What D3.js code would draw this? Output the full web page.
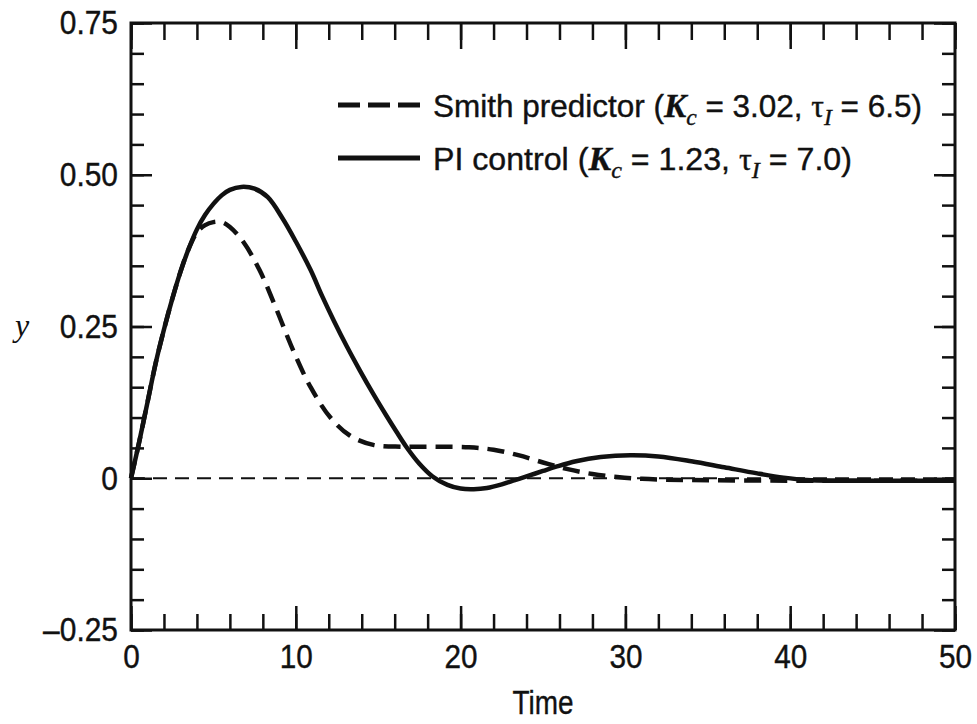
<!DOCTYPE html>
<html>
<head>
<meta charset="utf-8">
<script src="https://cdn.jsdelivr.net/npm/d3@7"></script>
<style>
  html, body { margin: 0; padding: 0; background: #fff; }
  svg { display: block; }
</style>
</head>
<body>
<div id="chart"></div>
<script>
// 数据：近似值
const timePI = [0, 0.5, 1.0, 1.5, 2.0, 2.5, 3.0, 3.5, 4.0, 4.5, 5.0, 5.5, 6.0, 6.7, 7.5, 8.3, 9.2, 10.0, 10.9, 11.6, 12.3, 13.1, 13.9, 14.7, 15.5, 16.1, 16.7, 17.5, 18.3, 19.2, 20.0, 20.8, 21.6, 22.5, 23.3, 24.0, 25.0, 25.8, 27.0, 28.5, 30.3, 32.0, 34.0, 36.0, 38.0, 39.6, 41.0, 43.0, 46.0, 50.0];
const valuesPI = [0, 0.06, 0.125, 0.19, 0.245, 0.295, 0.34, 0.378, 0.41, 0.434, 0.452, 0.466, 0.475, 0.480, 0.477, 0.463, 0.428, 0.390, 0.343, 0.300, 0.260, 0.217, 0.177, 0.139, 0.103, 0.077, 0.052, 0.024, 0.003, -0.011, -0.017, -0.018, -0.016, -0.010, -0.003, 0.003, 0.012, 0.019, 0.028, 0.035, 0.038, 0.036, 0.028, 0.018, 0.008, 0.001, -0.003, -0.004, -0.004, -0.004];

const timeSmith = [0, 0.5, 1.0, 1.5, 2.0, 2.5, 3.0, 3.5, 4.0, 4.5, 5.0, 5.5, 6.0, 6.8, 7.8, 8.8, 9.85, 10.9, 12.1, 13.3, 14.7, 16.5, 18.5, 20.5, 22.0, 23.5, 25.0, 26.5, 28.0, 29.5, 31.0, 34.0, 40.0, 45.0, 50.0];
const valuesSmith = [0, 0.06, 0.125, 0.19, 0.245, 0.295, 0.34, 0.378, 0.405, 0.417, 0.422, 0.422, 0.414, 0.390, 0.343, 0.280, 0.210, 0.150, 0.100, 0.070, 0.055, 0.052, 0.052, 0.051, 0.047, 0.038, 0.026, 0.015, 0.007, 0.002, -0.001, -0.003, -0.004, -0.004, -0.004];

const xMajorTicks = [0, 10, 20, 30, 40, 50];
const yMajorTicks = [-0.25, 0, 0.25, 0.5, 0.75];
const yTickLabels = ['\u20130.25', '0', '0.25', '0.50', '0.75'];

const W = 977, H = 724;
const plot = { left: 131, right: 955, top: 23, bottom: 630 };
const ink = '#111';

const svg = d3.select('#chart').append('svg')
  .attr('width', W).attr('height', H)
  .style('font-family', '"Liberation Sans", Arial, sans-serif');

const x = d3.scaleLinear().domain([0, 50]).range([plot.left, plot.right]);
const y = d3.scaleLinear().domain([-0.25, 0.75]).range([plot.bottom, plot.top]);

// 压缩字体宽度（原图字体较窄）
function squeeze(sel, k) {
  sel.each(function () {
    const w = this.getComputedTextLength();
    d3.select(this).attr('textLength', w * k).attr('lengthAdjust', 'spacingAndGlyphs');
  });
}

// 坐标轴：刻度朝内
function styleAxis(g) {
  g.select('.domain').remove();
  g.selectAll('.tick line').attr('stroke', ink).attr('stroke-width', 2.5);
}

const xMinor = d3.range(0, 51, 2);
const yMinor = d3.range(-0.25, 0.7501, 0.05).map(v => +v.toFixed(2));

svg.append('g').attr('transform', `translate(0,${plot.bottom})`)
  .call(d3.axisBottom(x).tickValues(xMinor).tickSizeInner(-16).tickSizeOuter(0).tickFormat(''))
  .call(styleAxis);
const xAxisG = svg.append('g').attr('transform', `translate(0,${plot.bottom})`)
  .call(d3.axisBottom(x).tickValues(xMajorTicks).tickSizeInner(-24).tickSizeOuter(0).tickPadding(15).tickFormat(d3.format('d')))
  .call(styleAxis);
svg.append('g').attr('transform', `translate(0,${plot.top})`)
  .call(d3.axisTop(x).tickValues(xMinor).tickSizeInner(-17).tickSizeOuter(0).tickFormat(''))
  .call(styleAxis);
svg.append('g').attr('transform', `translate(0,${plot.top})`)
  .call(d3.axisTop(x).tickValues(xMajorTicks).tickSizeInner(-26).tickSizeOuter(0).tickFormat(''))
  .call(styleAxis);

svg.append('g').attr('transform', `translate(${plot.left},0)`)
  .call(d3.axisLeft(y).tickValues(yMinor).tickSizeInner(-13).tickSizeOuter(0).tickFormat(''))
  .call(styleAxis);
const yAxisG = svg.append('g').attr('transform', `translate(${plot.left},0)`)
  .call(d3.axisLeft(y).tickValues(yMajorTicks).tickSizeInner(-21).tickSizeOuter(0).tickPadding(13)
    .tickFormat((d, i) => yTickLabels[i]))
  .call(styleAxis);
svg.append('g').attr('transform', `translate(${plot.right},0)`)
  .call(d3.axisRight(y).tickValues(yMinor).tickSizeInner(-13).tickSizeOuter(0).tickFormat(''))
  .call(styleAxis);
svg.append('g').attr('transform', `translate(${plot.right},0)`)
  .call(d3.axisRight(y).tickValues(yMajorTicks).tickSizeInner(-21).tickSizeOuter(0).tickFormat(''))
  .call(styleAxis);

xAxisG.selectAll('.tick text').attr('fill', ink).attr('stroke', ink).attr('stroke-width', 0.4)
  .style('font-size', '33px').style('font-family', '"Liberation Sans", Arial, sans-serif');
yAxisG.selectAll('.tick text').attr('fill', ink).attr('stroke', ink).attr('stroke-width', 0.4)
  .style('font-size', '34px').style('font-family', '"Liberation Sans", Arial, sans-serif');
squeeze(xAxisG.selectAll('.tick text'), 0.9);
squeeze(yAxisG.selectAll('.tick text'), 0.88);

// 外框
svg.append('rect')
  .attr('x', plot.left).attr('y', plot.top)
  .attr('width', plot.right - plot.left).attr('height', plot.bottom - plot.top)
  .attr('fill', 'none').attr('stroke', ink).attr('stroke-width', 3);

// 零线（细虚线）
svg.append('line')
  .attr('x1', x(0)).attr('x2', x(50))
  .attr('y1', y(0)).attr('y2', y(0))
  .attr('stroke', ink).attr('stroke-width', 2)
  .attr('stroke-dasharray', '14,8');

const line = d3.line()
  .x(d => x(d[0]))
  .y(d => y(d[1]))
  .curve(d3.curveCatmullRom.alpha(0.5));

const smithData = timeSmith.map((t, i) => [t, valuesSmith[i]]);
const piData = timePI.map((t, i) => [t, valuesPI[i]]);

svg.append('path')
  .datum(smithData)
  .attr('d', line)
  .attr('fill', 'none').attr('stroke', ink)
  .attr('stroke-width', 4.5)
  .attr('stroke-dasharray', '17,9');

svg.append('path')
  .datum(piData)
  .attr('d', line)
  .attr('fill', 'none').attr('stroke', ink)
  .attr('stroke-width', 4.5);

// 轴标题
svg.append('text')
  .attr('x', x(25)).attr('y', 714)
  .attr('text-anchor', 'middle')
  .attr('fill', ink).attr('stroke', ink).attr('stroke-width', 0.4)
  .style('font-size', '34px')
  .attr('textLength', 61).attr('lengthAdjust', 'spacingAndGlyphs')
  .text('Time');

svg.append('text')
  .attr('x', 22).attr('y', 336)
  .attr('text-anchor', 'middle')
  .attr('fill', ink)
  .style('font-family', '"Liberation Serif", "Times New Roman", serif')
  .style('font-style', 'italic')
  .style('font-size', '32px')
  .text('y');

// 图例
const legendItems = [
  { dash: '22,8', y: 105, base: 117, pre: 'Smith predictor (', kc: '3.02', ti: '6.5', width: 489 },
  { dash: null, y: 158, base: 170, pre: 'PI control (', kc: '1.23', ti: '7.0', width: 419 }
];

legendItems.forEach(it => {
  svg.append('line')
    .attr('x1', 338).attr('x2', 420)
    .attr('y1', it.y).attr('y2', it.y)
    .attr('stroke', ink).attr('stroke-width', 5)
    .attr('stroke-dasharray', it.dash);

  const g = svg.append('g').attr('transform', `translate(433,${it.base})`);
  const t = g.append('text').attr('x', 0).attr('y', 0)
    .attr('fill', ink).attr('stroke', ink).attr('stroke-width', 0.4)
    .style('font-size', '32px');
  t.append('tspan').text(it.pre);
  t.append('tspan')
    .style('font-family', '"Liberation Serif", "Times New Roman", serif')
    .style('font-style', 'italic').style('font-weight', 'bold')
    .style('font-size', '34px')
    .text('K');
  t.append('tspan')
    .style('font-family', '"Liberation Serif", "Times New Roman", serif')
    .style('font-style', 'italic')
    .style('font-size', '24px')
    .attr('dy', 8)
    .text('c');
  t.append('tspan').attr('dy', -8).text(` = ${it.kc}, `);
  t.append('tspan')
    .style('font-family', '"Liberation Serif", "Times New Roman", serif')
    .style('font-size', '32px')
    .text('\u03c4');
  t.append('tspan')
    .style('font-family', '"Liberation Serif", "Times New Roman", serif')
    .style('font-style', 'italic')
    .style('font-size', '24px')
    .attr('dy', 8)
    .text('I');
  t.append('tspan').attr('dy', -8).text(` = ${it.ti})`);

  const w = t.node().getComputedTextLength();
  g.attr('transform', `translate(433,${it.base}) scale(${it.width / w},1)`);
});
</script>
</body>
</html>
